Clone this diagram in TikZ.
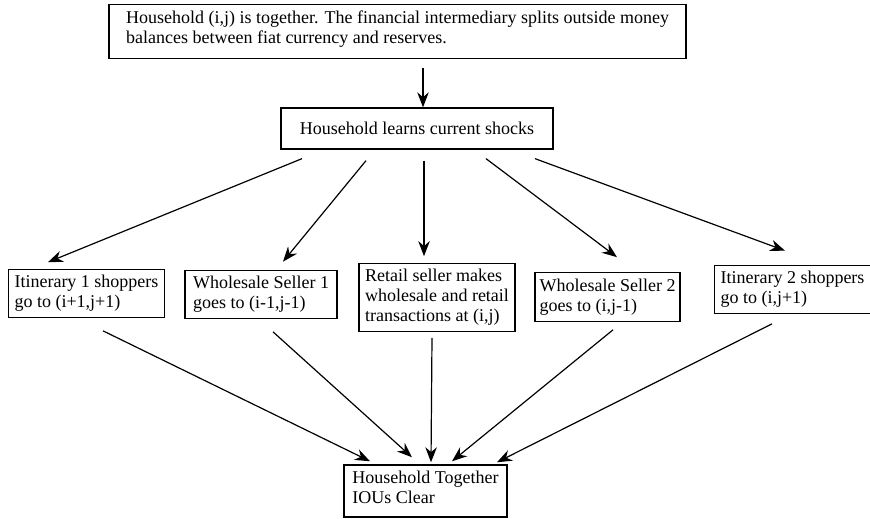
\documentclass[tikz,border=0pt]{standalone}
\usepackage{fontspec}
\setmainfont{Liberation Serif}
\usetikzlibrary{arrows.meta}
\begin{document}
\begin{tikzpicture}[x=1pt,y=1pt,
  box/.style={draw, line width=1.3pt, align=left, inner xsep=6pt, inner ysep=6pt,
    font=\fontsize{18}{20}\selectfont},
  arr/.style={line width=1.2pt, -{Stealth[length=15pt,width=11.5pt]}}]
\useasboundingbox (0,0) rectangle (870,-519);
\node[box, minimum width=577, inner xsep=14pt, text depth=8.7pt] (top) at (397.5,-31.5)
  {Household (i,j) is together. The financial intermediary splits outside money\\
   balances between fiat currency and reserves.};
\node[box, minimum width=272, minimum height=41] (shocks) at (417,-128.5)
  {Household learns current shocks};
\node[box] (it1) at (86.5,-293.5) {Itinerary 1 shoppers\\go to (i+1,j+1)};
\node[box, minimum width=152] (ws1) at (261,-294.5) {Wholesale Seller 1\\goes to (i-1,j-1)};
\node[box] (retail) at (437,-297.5) {Retail seller makes\\wholesale and retail\\transactions at (i,j)};
\node[box, inner xsep=4.5pt] (ws2) at (607.5,-297) {Wholesale Seller 2\\goes to (i,j-1)};
\node[box, minimum width=155] (it2) at (792.5,-289.5) {Itinerary 2 shoppers\\go to (i,j+1)};
\node[box, minimum width=163, text depth=7.7pt] (clear) at (425.5,-491) {Household Together\\IOUs Clear};
% from the top
\draw[arr] ([xshift=25.5pt,yshift=-9pt]top.south) -- ([xshift=6pt]shocks.north);
\draw[arr] ([xshift=-115pt,yshift=-9pt]shocks.south) -- ([xshift=-38.5pt,yshift=6.5pt]it1.north);
\draw[arr] ([xshift=-51pt,yshift=-11pt]shocks.south) -- ([xshift=22pt,yshift=8pt]ws1.north);
\draw[arr] ([xshift=7pt,yshift=-11pt]shocks.south) -- ([xshift=-13pt,yshift=6.5pt]retail.north);
\draw[arr] ([xshift=69pt,yshift=-9pt]shocks.south) -- ([xshift=9.5pt,yshift=15pt]ws2.north);
\draw[arr] ([xshift=118pt,yshift=-9pt]shocks.south) -- ([xshift=-7.5pt,yshift=14pt]it2.north);
% to the bottom
\draw[arr] ([xshift=16.5pt,yshift=-12.5pt]it1.south) -- ([xshift=-55.5pt,yshift=3pt]clear.north);
\draw[arr] ([xshift=12pt,yshift=-12.5pt]ws1.south) -- ([xshift=-13.5pt,yshift=7pt]clear.north);
\draw[arr] ([xshift=-5pt,yshift=-5.5pt]retail.south) -- ([xshift=5.5pt,yshift=2pt]clear.north);
\draw[arr] ([xshift=5.5pt,yshift=-8pt]ws2.south) -- ([xshift=26.5pt,yshift=3pt]clear.north);
\draw[arr] ([xshift=-20.5pt,yshift=-9.5pt]it2.south) -- ([xshift=71.5pt,yshift=2pt]clear.north);
\end{tikzpicture}
\end{document}
